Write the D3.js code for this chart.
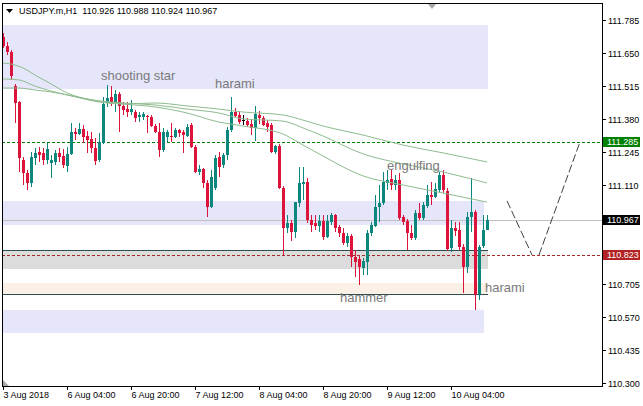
<!DOCTYPE html>
<html><head><meta charset="utf-8">
<script src="https://cdn.jsdelivr.net/npm/d3@7/dist/d3.min.js"></script>
<style>body{margin:0;background:#fff}svg{display:block}</style>
</head><body><svg id="c" width="643" height="406"></svg>
<script>
const title = "USDJPY.m,H1  110.926 110.988 110.924 110.967";
const opens = [111.714,111.677,111.652,111.513,111.448,111.211,111.158,111.117,111.219,111.244,
111.240,111.211,111.199,111.203,111.240,111.227,111.187,111.236,111.325,111.317,
111.338,111.309,111.297,111.260,111.211,111.281,111.444,111.468,111.448,111.481,
111.432,111.419,111.407,111.407,111.387,111.387,111.391,111.387,111.350,111.325,
111.252,111.305,111.309,111.305,111.334,111.325,111.309,111.354,111.264,111.162,
111.174,111.117,111.019,111.097,111.223,111.191,111.232,111.334,111.407,111.395,
111.374,111.370,111.358,111.342,111.395,111.383,111.362,111.354,111.244,111.268,
111.097,110.933,110.954,110.917,111.035,111.113,111.121,110.966,110.954,110.941,
110.962,110.897,110.958,110.986,110.937,110.913,110.872,110.901,110.815,110.807,
110.770,110.794,110.913,110.941,111.019,111.035,111.117,111.133,111.109,111.129,
110.978,110.962,110.913,110.892,110.995,110.974,111.023,111.068,111.060,111.089,
111.150,111.085,110.852,110.933,110.925,110.856,110.774,110.978,110.999,110.660,
110.860,110.926];
const highs = [111.730,111.693,111.660,111.522,111.452,111.223,111.170,111.244,111.260,111.264,
111.260,111.281,111.232,111.252,111.260,111.256,111.264,111.362,111.342,111.362,
111.354,111.330,111.325,111.301,111.321,111.468,111.517,111.513,111.497,111.489,
111.448,111.448,111.456,111.415,111.407,111.407,111.395,111.395,111.358,111.362,
111.342,111.334,111.362,111.342,111.338,111.334,111.358,111.362,111.272,111.191,
111.178,111.129,111.170,111.232,111.244,111.240,111.346,111.468,111.423,111.407,
111.395,111.383,111.374,111.432,111.411,111.391,111.374,111.362,111.272,111.276,
111.105,110.986,110.966,111.039,111.183,111.183,111.138,110.986,110.986,110.986,
110.986,110.986,110.995,110.990,110.946,110.933,110.913,110.909,110.843,110.823,
110.811,110.925,110.958,111.068,111.109,111.162,111.170,111.174,111.150,111.158,
110.986,110.970,110.946,111.007,111.035,111.039,111.109,111.121,111.117,111.162,
111.170,111.097,110.966,110.958,110.958,110.868,110.999,111.138,111.007,110.864,
110.986,110.988];
const lows = [111.669,111.640,111.538,111.362,111.162,111.109,111.089,111.101,111.191,111.203,
111.191,111.195,111.138,111.191,111.203,111.178,111.162,111.232,111.293,111.313,
111.281,111.240,111.240,111.191,111.203,111.276,111.428,111.432,111.407,111.325,
111.395,111.387,111.395,111.366,111.366,111.374,111.321,111.346,111.321,111.223,
111.244,111.285,111.285,111.301,111.305,111.240,111.305,111.260,111.158,111.150,
111.097,110.978,111.015,111.089,111.142,111.178,111.211,111.325,111.387,111.358,
111.354,111.346,111.313,111.289,111.358,111.350,111.325,111.240,111.236,111.093,
110.823,110.913,110.880,110.892,111.019,111.048,110.954,110.917,110.925,110.917,
110.884,110.892,110.946,110.917,110.897,110.864,110.856,110.774,110.733,110.700,
110.741,110.741,110.901,110.937,110.958,111.027,111.089,111.089,111.089,110.966,
110.946,110.843,110.884,110.884,110.966,110.966,111.015,111.027,111.056,111.080,
111.076,110.839,110.835,110.901,110.843,110.668,110.750,110.917,110.598,110.639,
110.852,110.924];
const closes = [111.677,111.652,111.554,111.444,111.219,111.158,111.117,111.223,111.240,111.232,
111.211,111.256,111.211,111.240,111.223,111.191,111.236,111.325,111.317,111.338,
111.305,111.293,111.260,111.207,111.285,111.440,111.464,111.444,111.481,111.432,
111.415,111.407,111.419,111.383,111.395,111.399,111.387,111.350,111.325,111.252,
111.325,111.325,111.305,111.334,111.321,111.313,111.346,111.264,111.162,111.174,
111.117,111.019,111.142,111.219,111.183,111.232,111.334,111.407,111.391,111.366,
111.374,111.354,111.342,111.399,111.383,111.354,111.346,111.244,111.268,111.097,
110.933,110.954,110.917,111.039,111.117,111.121,110.966,110.946,110.941,110.962,
110.897,110.962,110.986,110.933,110.913,110.872,110.901,110.815,110.794,110.774,
110.798,110.913,110.946,111.019,111.035,111.121,111.129,111.109,111.129,110.974,
110.958,110.913,110.892,110.995,110.974,111.027,111.068,111.060,111.093,111.150,
111.089,110.848,110.933,110.921,110.856,110.774,110.978,110.999,110.660,110.856,
110.926,110.967];

// moving averages: [bar index, price]
const maFast = [[-1,111.607],[0,111.607],[2,111.603],[5,111.587],[8,111.558],[12,111.522],[16,111.485],[20,111.464],[24,111.452],[30,111.440],[38,111.428],[46,111.403],[54,111.366],[60,111.350],[70,111.317],[75,111.272],[80,111.227],[90,111.146],[100,111.109],[110,111.076],[121,111.039]];
const maMid = [[-1,111.542],[0,111.542],[4,111.538],[8,111.513],[12,111.493],[16,111.477],[24,111.452],[30,111.444],[38,111.436],[46,111.419],[54,111.403],[60,111.379],[70,111.370],[75,111.342],[80,111.309],[90,111.236],[100,111.195],[110,111.162],[121,111.117]];
const maSlow = [[-1,111.505],[0,111.505],[4,111.505],[8,111.497],[12,111.489],[16,111.477],[24,111.448],[30,111.440],[38,111.444],[46,111.432],[54,111.419],[60,111.407],[70,111.395],[75,111.374],[80,111.350],[90,111.313],[100,111.272],[110,111.240],[121,111.203]];

// zones: [top price, bottom price, end bar]
const lavenderZones = [[111.763,111.501,121],[111.044,110.946,120],[110.598,110.504,120]];
const greyZone = [110.843,110.766,121];
const beigeZone = [110.709,110.664,121];
const zoneLines = [[110.843,121],[110.664,121]];

const bidPrice = 110.967;
const greenLevel = 111.285;
const redLevel = 110.823;

const projection1 = [[126,111.044],[132.25,110.823]];
const projection2 = [[134,110.823],[144.25,111.285]];

const annotations = [
  {text:"shooting star", i:24.5, p:111.536},
  {text:"harami", i:53, p:111.507},
  {text:"engulfing", i:96, p:111.171},
  {text:"hammer", i:84.25, p:110.631},
  {text:"harami", i:120.5, p:110.672}
];

const yTicks = [111.785,111.650,111.515,111.380,111.245,111.110,110.975,110.840,110.705,110.570,110.435,110.300];
const xTickBars = [0,16,32,48,64,80,96,112];
const xTickLabels = ["3 Aug 2018","6 Aug 04:00","6 Aug 20:00","7 Aug 12:00","8 Aug 04:00","8 Aug 20:00","9 Aug 12:00","10 Aug 04:00"];

const BULL = "#0b877d", BEAR = "#dc143c";
const plot = {l:2, t:3, r:602, b:386};
const svg = d3.select("#c");
const x = d3.scaleLinear().domain([0,1]).range([3,7]);
const y = d3.scaleLinear().domain([110.300,111.785]).range([383,19.5]);
const FONT = "'Liberation Sans', Arial, sans-serif";

svg.append("rect").attr("width",643).attr("height",406).attr("fill","#fff");
svg.append("clipPath").attr("id","clip").append("rect")
  .attr("x",plot.l).attr("y",plot.t).attr("width",plot.r-plot.l).attr("height",plot.b-plot.t);
const g = svg.append("g").attr("clip-path","url(#clip)");

function zone(z, fill){
  const y0 = Math.round(y(z[0])), y1 = Math.round(y(z[1]));
  g.append("rect").attr("x",plot.l).attr("y",y0).attr("width",Math.round(x(z[2]))+1-plot.l)
    .attr("height",y1-y0).attr("fill",fill);
}
lavenderZones.forEach(z=>zone(z,"#e6e6fa"));
zone(greyZone,"#dcdcdc");
zone(beigeZone,"#faf0e6");
zoneLines.forEach(zl=>{
  const yy = Math.round(y(zl[0]))+0.5;
  g.append("line").attr("x1",plot.l).attr("x2",Math.round(x(zl[1]))+1).attr("y1",yy).attr("y2",yy)
    .attr("stroke","#2f4f4f").attr("stroke-width",1);
});

// bid line
const by = Math.round(y(bidPrice))+0.5;
g.append("line").attr("x1",plot.l).attr("x2",plot.r).attr("y1",by).attr("y2",by).attr("stroke","#c0c0c0");
// dashed levels
[[greenLevel,"#008000"],[redLevel,"#a52a2a"]].forEach(([p,c])=>{
  const yy = Math.round(y(p))+0.5;
  g.append("line").attr("x1",plot.l).attr("x2",plot.r).attr("y1",yy).attr("y2",yy)
    .attr("stroke",c).attr("stroke-dasharray","3,2");
});

// candles
opens.forEach((o,i)=>{
  const h=highs[i], l=lows[i], c=closes[i];
  const cx = Math.round(x(i));
  const col = c>o ? BULL : (c<o ? BEAR : "#000");
  g.append("rect").attr("x",cx).attr("y",Math.round(y(h))).attr("width",1)
    .attr("height",Math.max(1,Math.round(y(l))-Math.round(y(h)))).attr("fill",col);
  const top = Math.round(y(Math.max(o,c))), bot = Math.round(y(Math.min(o,c)));
  g.append("rect").attr("x",cx-1).attr("y",top).attr("width",3)
    .attr("height",Math.max(1,bot-top)).attr("fill",col);
});

// moving averages
const line = d3.line().x(d=>x(d[0])).y(d=>y(d[1])).curve(d3.curveMonotoneX);
[maFast,maMid,maSlow].forEach(ma=>{
  g.append("path").attr("d",line(ma)).attr("fill","none").attr("stroke","#8fbc8f").attr("stroke-width",1);
});

// projection lines
[projection1,projection2].forEach(pr=>{
  g.append("path").attr("d",d3.line().x(d=>x(d[0])).y(d=>y(d[1]))(pr))
    .attr("fill","none").attr("stroke","#404040").attr("stroke-width",1).attr("stroke-dasharray","8,3");
});

// annotations
annotations.forEach(a=>{
  g.append("text").attr("x",x(a.i)).attr("y",y(a.p)).text(a.text)
    .attr("font-family",FONT).attr("font-size","13px").attr("fill","#7a7a7a");
});

// shift markers
svg.append("polygon").attr("points","427,3 437,3 432,9").attr("fill","#a9a9a9");
svg.append("polygon").attr("points","3,380 3,386 9,386").attr("fill","#a9a9a9");

// frame
svg.append("rect").attr("x",plot.l+0.5).attr("y",plot.t+0.5).attr("width",plot.r-plot.l)
  .attr("height",plot.b-plot.t).attr("fill","none").attr("stroke","#000");

// price boxes (levels shown on the axis)
const boxes = [[greenLevel,"#008000"],[bidPrice,"#000000"],[redLevel,"#b22222"]];

// y axis (labels hidden behind a price box are not drawn)
yTicks.forEach(v=>{
  const yy = Math.round(y(v))+0.5;
  svg.append("line").attr("x1",plot.r+0.5).attr("x2",plot.r+4).attr("y1",yy).attr("y2",yy).attr("stroke","#000");
  const hidden = boxes.some(([p])=>Math.abs(y(p)-yy) < 10);
  if(!hidden){
    svg.append("text").attr("x",608).attr("y",yy).attr("dy","0.35em").text(v.toFixed(3))
      .attr("font-family",FONT).attr("font-size","9px").attr("fill","#000");
  }
});
boxes.forEach(([p,c])=>{
  const yy = y(p);
  svg.append("rect").attr("x",603).attr("y",Math.round(yy)-5).attr("width",37).attr("height",10).attr("fill",c);
  svg.append("text").attr("x",607).attr("y",yy).attr("dy","0.35em").text(p.toFixed(3))
    .attr("font-family",FONT).attr("font-size","9px").attr("fill","#fff");
});

// x axis
xTickBars.forEach((b,k)=>{
  const xx = Math.round(x(b))+0.5;
  svg.append("line").attr("x1",xx).attr("x2",xx).attr("y1",plot.b).attr("y2",plot.b+4).attr("stroke","#000");
  svg.append("text").attr("x",xx).attr("y",398).text(xTickLabels[k])
    .attr("font-family",FONT).attr("font-size","9px").attr("fill","#000");
});

// title
svg.append("polygon").attr("points","6,9 13,9 9.5,13").attr("fill","#000");
svg.append("text").attr("x",19).attr("y",14).text(title).attr("xml:space","preserve")
  .style("white-space","pre").attr("font-family",FONT).attr("font-size","9px").attr("fill","#000");
</script></body></html>
